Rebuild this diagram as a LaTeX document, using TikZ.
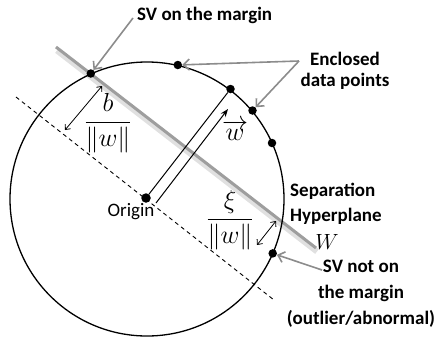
\documentclass[tikz,border=0pt]{standalone}
\usepackage{fix-cm}
\usepackage{amsmath}
\usepackage{fontspec}
\setmainfont{Carlito}
\usetikzlibrary{arrows.meta}
\begin{document}
\begin{tikzpicture}[x=1pt,y=-1pt,
  dot/.style={circle,fill=black,inner sep=0pt,minimum size=8.5pt},
  lbl/.style={font=\fontsize{19}{21}\selectfont\bfseries,inner sep=0pt},
  mth/.style={font=\fontsize{26}{28}\selectfont,inner sep=0pt},
  garrow/.style={draw=black!45,line width=1.6pt,-{Straight Barb[length=6pt,width=11pt]}},
  dbl/.style={line width=0.8pt,{Straight Barb[length=4pt,width=7pt]}-{Straight Barb[length=4pt,width=7pt]}}
]
\useasboundingbox (0,0) rectangle (438,343);
% hyperplane with shadow
\coordinate (h1) at (56,47);
\coordinate (h2) at (316,248);
\draw[line width=6pt,black!12] ([shift={(1,3.5)}]h1) -- ([shift={(1,3.5)}]h2);
\draw[line width=3pt,black!38] (h1) -- (h2);
% enclosing circle
\node[circle,draw,line width=1.3pt,minimum size=274pt,inner sep=0pt] (C) at (147,199) {};
% dashed parallel through origin
\coordinate (d1) at (16,97);
\coordinate (d2) at (274,300);
\draw[line width=0.9pt,dash pattern=on 4pt off 3.5pt] (d1) -- (d2);
% points
\node[dot] (sv1) at (90.8,73.5) {};
\node[dot] (p1) at (177.8,65) {};
\node[dot] (p2) at (230.5,89) {};
\node[dot] (p3) at (252.5,110.5) {};
\node[dot] (p4) at (272,143) {};
\node[dot] (sv2) at (272.7,253.4) {};
\node[dot,minimum size=9.5pt] (O) at (146,198) {};
% w vector
\draw[line width=1pt] (O) -- (p2);
\coordinate (w1) at (156,203);
\coordinate (w2) at (228,109);
\draw[line width=1pt,-{Stealth[length=8pt,width=6pt]}] (w1) -- (w2);
% margin arrows
\coordinate (b1) at (65,130);
\coordinate (b2) at (102,86);
\draw[dbl] (b1) -- (b2);
\coordinate (x1) at (257,245);
\coordinate (x2) at (276,221);
\draw[dbl] (x1) -- (x2);
% math labels
\node[mth] (bf) at (108,123) {$\dfrac{b}{\|w\|}$};
\node[mth] (xf) at (230,220) {$\dfrac{\xi}{\|w\|}$};
\node[mth] (wv) at (235,130) {$\overrightarrow{w}$};
\node[font=\fontsize{22}{24}\selectfont,inner sep=0pt] (W) at (327,242) {$W$};
% text labels
\node[font=\fontsize{19}{21}\selectfont,inner sep=0pt] (orig) at (131,212) {Origin};
\node[lbl,anchor=west] (t1) at (137,15) {SV on the margin};
\node[lbl,align=center,font=\fontsize{19}{20.5}\selectfont\bfseries] (t2) at (345,71) {Enclosed\\data points};
\node[lbl,align=left,anchor=west,font=\fontsize{19}{25}\selectfont\bfseries] (t3) at (290,204) {Separation\\Hyperplane};
\node[lbl,align=center,font=\fontsize{19}{26}\selectfont\bfseries] (t4) at (361,294) {SV not on\\the margin\\(outlier/abnormal)};
% callout arrows
\coordinate (a1) at (133,18);
\draw[garrow] (a1) -- (sv1);
\coordinate (a2) at (299,61);
\draw[garrow] (a2) -- (p1);
\draw[garrow] (a2) -- (p3);
\coordinate (a3) at (322,270);
\draw[garrow] (a3) -- (sv2);
\end{tikzpicture}
\end{document}
